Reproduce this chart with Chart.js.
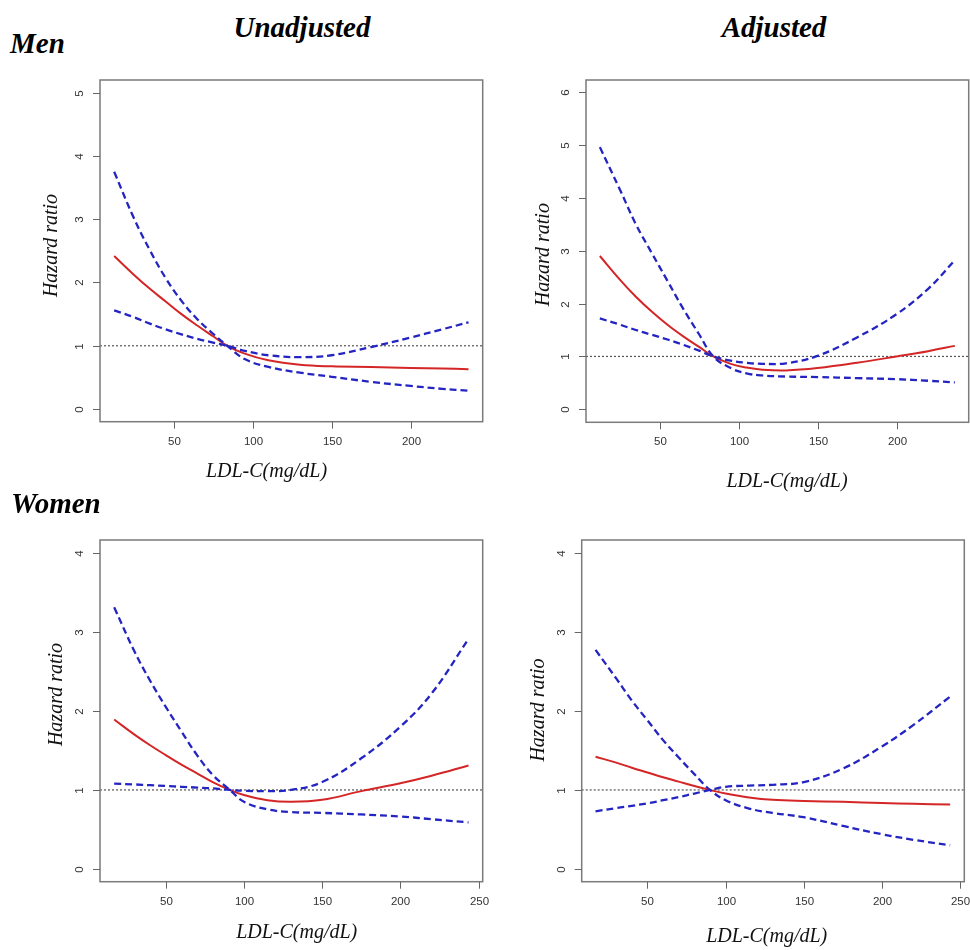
<!DOCTYPE html>
<html>
<head>
<meta charset="utf-8">
<script src="https://cdn.jsdelivr.net/npm/chart.js@4.4.1/dist/chart.umd.min.js"></script>
<style>
  html, body { margin: 0; padding: 0; background: #fff; }
  #fig { position: relative; width: 970px; height: 950px; overflow: hidden; background: #fff; }
  #fig canvas { position: absolute; }
  .head {
    position: absolute; white-space: nowrap; color: #000;
    font-family: "Liberation Serif", "Times New Roman", serif;
    font-weight: bold; font-style: italic; font-size: 29px; line-height: 29px;
  }
</style>
</head>
<body>
<div id="fig">
  <canvas id="c1" width="490" height="435" style="left:0px; top:70px;"></canvas>
  <canvas id="c2" width="480" height="435" style="left:490px; top:70px;"></canvas>
  <canvas id="c3" width="490" height="425" style="left:0px; top:525px;"></canvas>
  <canvas id="c4" width="480" height="425" style="left:490px; top:525px;"></canvas>
  <div class="head" style="left:10px; top:29px;">Men</div>
  <div class="head" style="left:302px; top:13px; transform:translateX(-50%);">Unadjusted</div>
  <div class="head" style="left:774px; top:13px; transform:translateX(-50%);">Adjusted</div>
  <div class="head" style="left:11px; top:489px;">Women</div>
</div>
<script>
// Restricted cubic spline hazard ratios by LDL-C, with 95% CI bounds.
// The two CI curves cross at the reference LDL-C, where HR = 1.

// Men, unadjusted
const menUnadjX   = [12.4, 25, 35, 45, 55, 65, 75, 84, 95, 110, 130, 150, 175, 200, 220, 236.7];
const menUnadjHR  = [2.42, 2.12, 1.90, 1.70, 1.50, 1.32, 1.15, 1.00, 0.875, 0.77, 0.70, 0.675, 0.665, 0.65, 0.64, 0.63];
const menUnadjCI1 = [3.75, 3.01, 2.51, 2.07, 1.71, 1.42, 1.19, 1.00, 0.79, 0.665, 0.575, 0.51, 0.43, 0.365, 0.32, 0.29];
const menUnadjCI2 = [1.56, 1.45, 1.35, 1.26, 1.18, 1.11, 1.05, 1.00, 0.92, 0.85, 0.82, 0.85, 0.98, 1.13, 1.26, 1.37];

// Men, adjusted
const menAdjX   = [12.2, 25, 35, 45, 55, 65, 75, 84, 95, 105, 115, 130, 150, 175, 200, 220, 236.9];
const menAdjHR  = [2.90, 2.45, 2.13, 1.85, 1.60, 1.38, 1.18, 1.00, 0.86, 0.79, 0.75, 0.735, 0.78, 0.88, 1.00, 1.10, 1.20];
const menAdjCI1 = [4.96, 4.15, 3.50, 2.96, 2.43, 1.90, 1.42, 1.00, 0.78, 0.68, 0.64, 0.62, 0.61, 0.59, 0.57, 0.54, 0.51];
const menAdjCI2 = [1.72, 1.60, 1.50, 1.41, 1.32, 1.22, 1.11, 1.00, 0.92, 0.88, 0.86, 0.87, 1.01, 1.36, 1.80, 2.28, 2.82];

// Women, unadjusted
const womenUnadjX   = [17, 30, 40, 50, 60, 70, 80, 91, 100, 115, 130, 150, 175, 200, 220, 243.6];
const womenUnadjHR  = [1.89, 1.70, 1.565, 1.44, 1.32, 1.21, 1.10, 1.00, 0.935, 0.87, 0.85, 0.875, 0.985, 1.085, 1.18, 1.31];
const womenUnadjCI1 = [3.31, 2.75, 2.38, 2.05, 1.74, 1.44, 1.19, 1.00, 0.85, 0.755, 0.72, 0.71, 0.69, 0.665, 0.63, 0.59];
const womenUnadjCI2 = [1.08, 1.07, 1.06, 1.05, 1.04, 1.03, 1.02, 1.00, 0.99, 0.985, 1.00, 1.10, 1.40, 1.80, 2.22, 2.91];

// Women, adjusted
const womenAdjX   = [16.8, 30, 40, 50, 60, 70, 80, 90, 100, 115, 130, 150, 175, 200, 220, 243.6];
const womenAdjHR  = [1.42, 1.345, 1.28, 1.22, 1.16, 1.105, 1.05, 1.00, 0.955, 0.905, 0.875, 0.86, 0.85, 0.835, 0.825, 0.815];
const womenAdjCI1 = [2.77, 2.41, 2.13, 1.88, 1.63, 1.41, 1.20, 1.00, 0.87, 0.765, 0.71, 0.655, 0.545, 0.44, 0.37, 0.30];
const womenAdjCI2 = [0.73, 0.77, 0.80, 0.83, 0.87, 0.91, 0.955, 1.00, 1.04, 1.055, 1.065, 1.10, 1.27, 1.55, 1.82, 2.18];

// Axis ticks
const xTicksMen   = [50, 100, 150, 200];
const xTicksWomen = [50, 100, 150, 200, 250];
const yTicksMenUnadj = [0, 1, 2, 3, 4, 5];
const yTicksMenAdj   = [0, 1, 2, 3, 4, 5, 6];
const yTicksWomen    = [0, 1, 2, 3, 4];

const REF_HR = 1;
const X_TITLE = 'LDL-C(mg/dL)';
const Y_TITLE = 'Hazard ratio';

const RED = '#d42626';
const BLUE = '#2424c2';
const FRAME = '#7a7a7a';

// R-style box, outward ticks, rotated y tick labels and axis titles
const rStyle = {
  id: 'rStyle',
  beforeDatasetsDraw(chart) {
    const { ctx, chartArea: a, scales: { y } } = chart;
    const yy = y.getPixelForValue(REF_HR);
    ctx.save();
    ctx.strokeStyle = '#555';
    ctx.lineWidth = 1.2;
    ctx.setLineDash([2, 2]);
    ctx.beginPath();
    ctx.moveTo(a.left, yy);
    ctx.lineTo(a.right, yy);
    ctx.stroke();
    ctx.restore();
  },
  afterDraw(chart, args, o) {
    const { ctx, chartArea: a, scales: { x, y } } = chart;
    ctx.save();
    ctx.setLineDash([]);
    ctx.strokeStyle = FRAME;
    ctx.lineWidth = 1.5;
    ctx.strokeRect(a.left, a.top, a.right - a.left, a.bottom - a.top);

    ctx.strokeStyle = '#666';
    ctx.lineWidth = 1;
    ctx.fillStyle = '#333';
    ctx.font = '11.5px "Liberation Sans", Arial, sans-serif';
    ctx.textAlign = 'center';
    ctx.textBaseline = 'middle';
    o.xTicks.forEach(v => {
      const px = Math.round(x.getPixelForValue(v)) + 0.5;
      ctx.beginPath();
      ctx.moveTo(px, a.bottom);
      ctx.lineTo(px, a.bottom + 7);
      ctx.stroke();
      ctx.fillText(String(v), px, a.bottom + 20);
    });
    o.yTicks.forEach(v => {
      const py = Math.round(y.getPixelForValue(v)) + 0.5;
      ctx.beginPath();
      ctx.moveTo(a.left - 7, py);
      ctx.lineTo(a.left, py);
      ctx.stroke();
      ctx.save();
      ctx.translate(a.left - 20, py);
      ctx.rotate(-Math.PI / 2);
      ctx.fillText(String(v), 0, 0);
      ctx.restore();
    });

    ctx.fillStyle = '#111';
    ctx.font = 'italic 20px "Liberation Serif", "Times New Roman", serif';
    ctx.fillText(X_TITLE, o.xTitleAt[0], o.xTitleAt[1]);
    ctx.save();
    ctx.translate(o.yTitleAt[0], o.yTitleAt[1]);
    ctx.rotate(-Math.PI / 2);
    ctx.fillText(Y_TITLE, 0, 0);
    ctx.restore();
    ctx.restore();
  }
};

function pts(xs, ys) {
  return xs.map((v, i) => ({ x: v, y: ys[i] }));
}

function panel(id, p) {
  const curve = (data, color, width, dash) => ({
    data, borderColor: color, borderWidth: width, borderDash: dash,
    pointRadius: 0, fill: false, tension: 0.4
  });
  new Chart(document.getElementById(id), {
    type: 'line',
    data: {
      datasets: [
        curve(pts(p.x, p.ci1), BLUE, 2.3, [7, 4]),
        curve(pts(p.x, p.ci2), BLUE, 2.3, [7, 4]),
        curve(pts(p.x, p.hr), RED, 2, [])
      ]
    },
    options: {
      responsive: false,
      animation: false,
      devicePixelRatio: 1,
      layout: { padding: p.pad },
      scales: {
        x: { type: 'linear', display: false, min: p.xr[0], max: p.xr[1] },
        y: { type: 'linear', display: false, min: p.yr[0], max: p.yr[1] }
      },
      plugins: {
        legend: { display: false },
        tooltip: { enabled: false },
        rStyle: { xTicks: p.xTicks, yTicks: p.yTicks, xTitleAt: p.xTitleAt, yTitleAt: p.yTitleAt }
      }
    },
    plugins: [rStyle]
  });
}

panel('c1', {
  x: menUnadjX, hr: menUnadjHR, ci1: menUnadjCI1, ci2: menUnadjCI2,
  xr: [3.43, 245.67], yr: [-0.2, 5.2],
  xTicks: xTicksMen, yTicks: yTicksMenUnadj,
  pad: { left: 100, top: 10, right: 7.3, bottom: 83.3 },
  xTitleAt: [266.5, 402], yTitleAt: [52, 175.5]
});
panel('c2', {
  x: menAdjX, hr: menAdjHR, ci1: menAdjCI1, ci2: menAdjCI2,
  xr: [3.43, 245.67], yr: [-0.246, 6.23],
  xTicks: xTicksMen, yTicks: yTicksMenAdj,
  pad: { left: 96, top: 10, right: 1.3, bottom: 82.7 },
  xTitleAt: [297, 412], yTitleAt: [54, 184.7]
});
panel('c3', {
  x: womenUnadjX, hr: womenUnadjHR, ci1: womenUnadjCI1, ci2: womenUnadjCI2,
  xr: [7.94, 252.66], yr: [-0.16, 4.16],
  xTicks: xTicksWomen, yTicks: yTicksWomen,
  pad: { left: 100, top: 15, right: 7.3, bottom: 68.3 },
  xTitleAt: [296.7, 408], yTitleAt: [56.5, 169.5]
});
panel('c4', {
  x: womenAdjX, hr: womenAdjHR, ci1: womenAdjCI1, ci2: womenAdjCI2,
  xr: [7.94, 252.66], yr: [-0.16, 4.16],
  xTicks: xTicksWomen, yTicks: yTicksWomen,
  pad: { left: 91.7, top: 15, right: 5.7, bottom: 68.3 },
  xTitleAt: [276.7, 412], yTitleAt: [49, 185]
});
</script>
</body>
</html>
